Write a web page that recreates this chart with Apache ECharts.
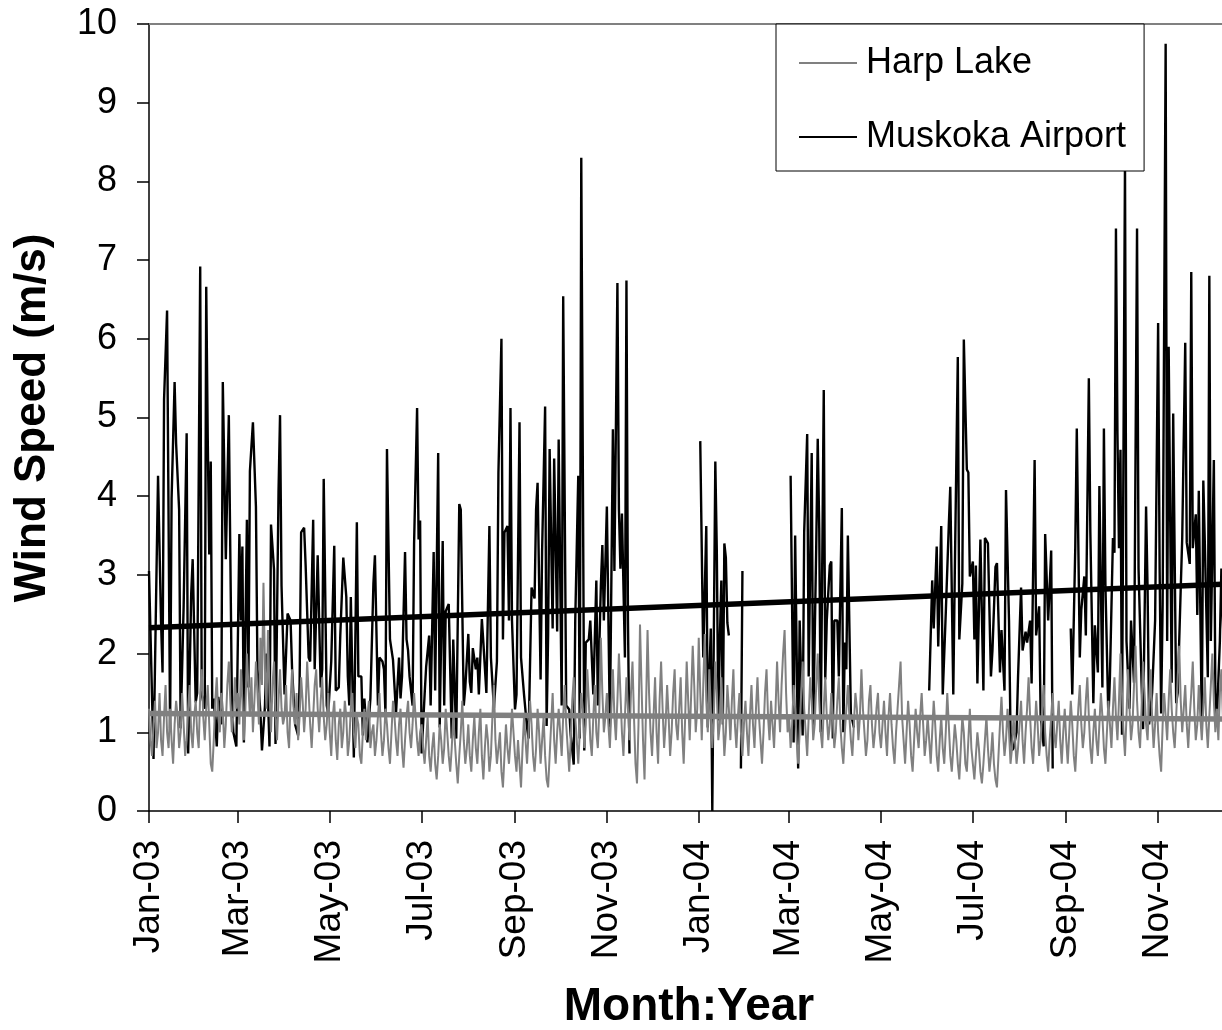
<!DOCTYPE html>
<html>
<head>
<meta charset="utf-8">
<title>Wind Speed: Harp Lake and Muskoka Airport</title>
<script src="https://cdn.jsdelivr.net/npm/echarts@6/dist/echarts.min.js"></script>
<style>
  html, body { margin: 0; padding: 0; background: #fff; }
  #chart { width: 1222px; height: 1030px; }
</style>
</head>
<body>
<div id="chart"></div>
<script>
// Daily mean wind speed (m/s), Harp Lake, one row per month
const harp2003 = [
  [1.3,0.9,0.7,1.1,1.4,0.8,1.0,1.5,0.9,0.7,1.2,1.6,1.0,0.8,1.3,0.9,0.6,1.1,1.4,1.2,0.8,1.0,1.5,1.1,0.7,0.9,1.3,1.6,1.0,0.8,1.2],
  [1.4,1.0,0.8,1.5,1.8,1.2,0.9,1.3,1.6,1.1,0.6,0.5,0.9,1.4,1.7,1.2,1.0,1.5,1.3,0.8,1.1,1.6,1.9,1.4,1.0,1.2,1.7,1.3],
  [1.5,1.1,1.8,1.4,0.9,1.3,2.0,1.6,1.2,1.7,1.0,1.4,1.9,1.5,1.1,2.2,1.6,2.9,1.8,1.3,2.3,1.5,1.0,1.6,1.9,1.2,0.9,1.4,1.8,1.3,1.1],
  [1.2,1.6,1.0,0.8,1.4,1.8,1.3,1.1,1.5,0.9,1.2,1.7,1.4,1.0,1.3,1.9,1.5,1.1,0.8,1.2,1.6,1.8,1.3,1.0,1.4,1.7,1.2,0.9,1.1,1.5],
  [1.0,0.7,1.2,1.4,0.9,0.65,1.1,1.3,0.8,1.0,1.4,1.2,0.7,0.9,1.3,1.5,1.0,0.8,1.2,1.1,0.7,0.6,1.0,1.3,0.9,1.2,1.4,0.8,1.0,1.1,0.7],
  [0.9,1.2,1.5,1.0,0.7,0.9,1.3,1.1,0.8,0.6,1.0,1.4,1.2,0.9,0.7,1.1,1.3,0.8,0.55,0.9,1.2,1.4,1.0,0.8,1.1,1.5,1.2,0.9,0.7,1.0],
  [1.1,0.8,0.6,0.9,1.2,0.7,0.5,0.8,1.0,0.6,0.4,0.7,1.1,0.9,0.6,0.8,1.3,1.0,0.7,0.5,0.8,1.2,0.9,0.6,0.35,0.7,1.0,1.4,0.9,0.6,0.8],
  [1.1,0.7,0.5,0.9,1.2,0.8,0.6,1.0,1.3,0.7,0.4,0.8,1.1,0.9,0.5,0.7,1.2,1.6,0.9,0.6,0.8,1.0,0.5,0.3,0.7,1.1,0.8,0.6,0.9,1.3,1.0],
  [0.7,0.5,0.9,0.6,0.3,0.8,1.2,0.9,0.6,1.0,1.4,1.1,0.7,0.5,0.8,1.3,1.0,0.6,0.9,1.2,0.7,0.4,0.3,0.7,1.1,1.5,0.9,0.6,1.0,1.3],
  [1.0,0.7,1.2,1.6,1.1,0.8,0.5,0.9,1.4,1.7,1.2,0.9,0.6,1.0,1.5,1.3,0.8,1.1,1.8,1.4,0.9,0.7,1.2,1.6,1.0,0.8,1.3,2.2,1.5,1.0,1.2],
  [1.5,1.1,0.8,1.3,1.8,1.2,0.9,1.4,2.0,1.5,1.0,0.7,1.2,1.7,1.3,0.9,1.5,1.9,1.2,0.6,0.35,1.1,2.37,1.6,0.9,0.4,1.3,2.3,1.5,1.0],
  [0.7,1.2,1.7,1.0,0.6,1.4,1.9,1.3,0.8,1.1,1.6,1.2,0.7,1.0,1.5,1.8,1.1,0.9,1.3,1.7,1.0,0.6,1.2,1.9,1.4,0.9,1.5,2.1,1.6,1.0,1.3]
];
const harp2004 = [
  [2.2,1.5,0.9,1.6,2.25,1.4,1.0,1.8,1.3,0.8,1.2,1.9,1.5,0.9,1.1,1.7,1.2,0.7,1.0,1.6,1.3,0.9,1.4,1.8,1.1,0.8,1.2,1.5,1.0,0.7,1.1],
  [1.4,1.0,0.7,1.2,1.6,1.1,0.8,1.3,1.7,1.2,0.9,0.6,1.0,1.5,1.8,1.2,0.9,1.4,1.1,0.8,1.3,1.9,1.4,1.0,1.6,2.0,2.3,1.5,1.0],
  [1.2,0.8,1.1,1.6,1.3,0.9,0.6,1.0,1.5,1.9,1.3,1.0,0.7,1.2,1.7,1.4,0.9,1.1,1.6,2.0,1.4,1.0,0.8,1.3,1.7,1.2,0.9,1.1,1.5,1.2,0.8],
  [1.0,1.4,1.7,1.1,0.8,0.6,1.0,1.3,1.6,1.2,0.9,0.7,1.1,1.5,1.3,0.9,1.2,1.8,1.3,1.0,0.7,0.9,1.4,1.6,1.1,0.8,1.0,1.3,1.5,1.0],
  [0.8,1.1,1.4,1.0,0.7,1.2,1.5,1.1,0.8,0.6,1.0,1.3,1.6,1.9,1.2,0.9,0.6,1.0,1.4,1.1,0.7,0.5,0.9,1.3,1.0,0.8,1.2,1.5,1.1,0.7,0.9],
  [1.2,0.9,0.6,1.0,1.4,1.1,0.7,0.5,0.9,1.2,0.8,0.6,1.0,1.5,1.1,0.7,0.5,0.8,1.1,0.9,0.6,0.4,0.8,1.2,1.0,0.6,0.5,0.9,1.3,0.8],
  [0.6,0.4,0.7,1.0,0.8,0.5,0.35,0.6,0.9,1.2,0.8,0.5,0.7,1.0,0.6,0.4,0.3,0.7,1.1,1.45,1.0,0.7,0.9,1.3,1.0,0.6,0.8,1.2,0.9,0.6,0.8],
  [1.1,1.4,0.9,0.6,1.0,1.3,1.7,1.2,0.8,0.6,1.0,1.4,1.1,0.7,0.9,1.3,1.6,1.0,0.7,0.5,0.9,1.2,1.5,1.0,0.8,1.1,1.4,0.9,0.6,1.0,1.3],
  [0.9,0.6,1.0,1.4,1.1,0.7,0.5,0.9,1.3,1.6,1.1,0.8,1.0,1.4,1.7,1.2,0.8,0.6,1.0,1.3,0.9,0.7,1.1,1.5,1.2,0.8,0.6,1.0,1.4,1.1],
  [0.8,1.3,1.7,1.2,0.9,1.4,2.0,1.5,1.0,0.7,1.2,1.8,1.3,0.9,1.1,1.6,2.1,1.4,1.0,0.8,1.3,1.9,1.5,1.1,0.9,1.4,1.8,1.2,0.8,1.1,1.5],
  [1.0,0.7,0.5,1.1,1.5,1.2,0.9,1.4,1.8,1.3,1.0,0.8,1.2,1.7,2.1,1.4,1.0,1.3,1.6,1.1,0.8,1.2,1.5,1.9,1.3,0.9,1.1,1.6,1.2,0.9],
  [1.3,1.7,1.1,0.8,1.2,1.6,2.0,1.4,1.0,1.3,0.9,1.5,1.8,1.2,1.0,1.4,1.1,0.8,1.3,1.6,1.2,0.9,1.1,1.5,1.3,1.0,1.2,1.6,1.1,0.9,1.2]
];

// Muskoka Airport wind speed (m/s) as [day since 1 Jan 2003, speed]; each block is an unbroken record
const muskoka2003 = [
  [0,3.05],[3,0.66],[6,4.26],[8,2.4],[9,1.76],[10,5.23],[12,6.36],[14,1.05],[15,3.97],[17,5.45],[18,4.67],[20,3.83],
  [21,1.05],[23,2.6],[25,4.8],[26,0.73],[28,2.75],[29,3.2],[31,1.38],[32,1.5],[34,6.92],[35,1.48],[37,1.3],[38,6.66],
  [39,4.74],[40,3.26],[41,4.44],[42,1.3],[43,1.43],[45,0.82],[46,1.45],[48,1.1],[49,5.45],[51,3.2],[53,5.03],[55,1.48],
  [56,1.0],[58,0.82],[60,3.52],[61,2.42],[62,3.36],[63,0.87],[65,3.7],[66,1.57],[67,4.32],[69,4.94],[71,3.87],[72,1.8],
  [74,1.24],[75,0.77],[77,1.34],[78,2.0],[80,0.82],[81,3.64],[83,3.07],[84,0.85],[86,4.06],[87,5.03],[88,2.86],[90,1.48],
  [92,2.51],[94,2.42],[95,1.8],[97,1.1],[99,0.96],[100,1.64],[101,3.54],[103,3.6],[104,3.12],[106,1.95],[107,1.9],[109,3.7],
  [110,1.8],[112,3.25],[114,1.57],[115,1.8],[116,4.22],[118,1.34],[119,1.24],[121,1.9],[123,3.37],[124,1.53],[126,1.57],
  [127,2.23],[129,3.22],[131,2.72],[132,1.71],[133,1.34],[134,2.72],[136,0.68],[138,3.67],[139,1.71],[141,1.71],[142,0.96],
  [143,1.43],[145,0.87],[147,1.43],[149,2.89],[150,3.25],[152,1.34],[153,1.95],[155,1.9],[156,1.8],[157,1.24],[158,4.6],
  [160,2.18],[162,1.92],[164,1.24],[166,1.95],[167,1.43],[168,1.71],[170,3.29],[171,2.18],[172,2.04],[173,1.71],[175,1.34],
  [176,3.4],[178,5.12],[179,3.45],[180,3.69],[181,0.73],[183,1.48],[184,1.83],[186,2.23],[187,1.34],[189,3.29],[190,1.53],
  [192,4.55],[193,1.06],[195,3.43],[196,1.34],[197,2.54],[199,2.63],[201,0.92],[202,2.18],[204,0.92],[206,3.9],[207,3.83],
  [209,1.34],[210,1.57],[212,2.25],[213,1.64],[214,1.5],[215,2.07],[217,1.8],[218,1.95],[219,1.48],[221,2.44],[222,2.14],
  [224,1.5],[226,3.62],[227,1.95],[229,1.31],[231,1.9],[232,4.3],[234,6.0],[235,2.18],[236,3.54],[238,3.62],[239,2.42],
  [240,5.12],[241,2.42],[243,1.29],[244,1.48],[246,4.94],[247,1.95],[249,1.48],[251,1.06],[252,0.92],[254,2.84],[256,2.7],
  [257,3.83],[258,4.17],[260,1.67],[261,3.31],[263,5.14],[264,1.08],[265,2.25],[266,4.6],[268,2.32],[269,4.48],[271,2.28],
  [272,4.72],[274,1.34],[275,6.54],[277,1.34],[279,1.29],[280,0.96],[282,0.59],[283,2.42],[285,4.26],[286,0.92],[287,8.3],
  [289,0.77],[290,2.14],[292,2.18],[293,2.42],[295,1.48],[297,2.93],[298,1.34],[300,2.86],[301,3.38],[302,2.42],[304,3.87],
  [306,1.06],[308,4.85],[309,3.05],[311,6.71],[312,3.83],[313,3.08],[314,3.78],[316,1.95],[317,6.74],[318,2.42],[319,0.73]
];
const muskokaJan2004 = [
  [366,4.7],[368,1.95],[370,3.62],[371,1.06],[373,2.32],[374,0],[376,4.44],[377,3.29],[378,1.15],[379,2.18],[380,2.93],
  [381,1.1],[382,3.4],[383,3.22],[384,2.39],[385,2.23]
];
const muskokaFeb2004 = [[393,0.54],[394,3.05]];
const muskokaSpring2004 = [
  [426,4.26],[428,0.87],[429,3.5],[431,0.54],[432,2.42],[434,0.96],[435,3.54],[437,4.79],[438,1.71],[440,4.55],[441,1.06],
  [443,3.36],[444,4.73],[445,3.59],[446,1.0],[448,5.35],[449,1.67],[450,2.42],[452,3.12],[453,3.17],[454,0.92],[455,2.42],
  [457,2.42],[458,1.71],[460,3.85],[461,1.0],[462,2.14],[463,1.8],[464,3.5],[466,1.24],[468,1.06]
];
const muskokaSummer2004 = [
  [518,1.53],[520,2.93],[521,2.32],[523,3.36],[524,2.09],[526,3.62],[527,1.48],[529,2.51],[531,3.62],[532,4.12],[534,1.48],
  [535,3.03],[537,5.77],[538,2.18],[540,2.89],[541,5.99],[543,4.34],[544,4.3],[545,2.98],[547,3.17],[548,2.18],[549,3.12],
  [550,1.62],[552,3.45],[554,1.53],[555,3.47],[557,3.4],[559,1.71],[560,2.04],[562,3.1],[563,3.15],[565,1.76],[566,2.3],
  [568,1.53],[569,4.08],[571,2.42],[572,1.0],[573,0.77],[574,0.8],[576,1.0],[577,1.71],[579,2.84],[580,2.04],[582,2.28],
  [583,2.14],[585,2.42],[586,1.62],[588,4.46],[589,2.23],[591,2.6],[592,1.2],[594,0.82],[595,3.52],[597,2.42],[599,3.31],
  [600,0.54]
];
const muskokaFall2004 = [
  [612,2.32],[613,1.48],[615,3.36],[616,4.86],[618,1.95],[619,2.56],[621,2.98],[622,2.23],[624,5.5],[625,3.54],[627,1.37],
  [628,2.36],[630,1.76],[631,4.13],[633,1.57],[634,4.86],[635,2.88],[637,1.17],[638,1.7],[640,3.47],[641,3.28],[642,7.4],
  [643,4.79],[644,3.34],[645,4.59],[646,0.97],[648,8.25],[649,2.16],[651,1.3],[652,2.42],[654,1.63],[656,7.4],[657,3.08],
  [659,1.63],[660,1.04],[662,3.87],[663,2.82],[664,1.1],[666,1.5],[668,2.42],[670,6.2],[671,3.08],[672,1.24],[673,2.62],
  [675,9.75],[676,2.16],[677,5.9],[679,1.63],[680,5.05],[682,1.37],[683,1.5],[685,2.82],[686,3.47],[688,5.95],[689,3.41],
  [691,3.14],[692,6.85],[693,3.34],[695,3.77],[696,2.49],[697,4.07],[699,1.1],[700,4.2],[701,3.41],[703,1.7],[704,6.8],
  [705,2.16],[707,4.46],[708,1.5],[709,1.17],[711,2.16],[712,3.08],[714,1.8],[715,2.6]
];

// Linear trend end values (m/s) at 1 Jan 2003 and 1 Jan 2005
const harpTrend = [1.24, 1.168];
const muskokaTrend = [2.33, 2.895];

// Month tick labels along the date axis
const tickLabels = ['Jan-03','Mar-03','May-03','Jul-03','Sep-03','Nov-03',
                    'Jan-04','Mar-04','May-04','Jul-04','Sep-04','Nov-04','Jan-05'];

const seriesNames = ['Harp Lake', 'Muskoka Airport'];

// ---- build series data (x = days since 1 Jan 2003) ----
const DAY = 86400000;
const origin = Date.UTC(2003, 0, 1);
const monthIndex = {Jan:0,Feb:1,Mar:2,Apr:3,May:4,Jun:5,Jul:6,Aug:7,Sep:8,Oct:9,Nov:10,Dec:11};
const tickDays = tickLabels.map(function (t) {
  const parts = t.split('-');
  return Math.round((Date.UTC(2000 + Number(parts[1]), monthIndex[parts[0]], 1) - origin) / DAY);
});
const labelByDay = {};
tickDays.forEach(function (d, i) { labelByDay[d] = tickLabels[i]; });
const axisEnd = tickDays[tickDays.length - 1];

const harpData = harp2003.flat().concat(harp2004.flat()).map(function (v, i) { return [i, v]; });

const muskokaBlocks = [muskoka2003, muskokaJan2004, muskokaFeb2004, muskokaSpring2004, muskokaSummer2004, muskokaFall2004];
const muskokaData = [];
muskokaBlocks.forEach(function (block, i) {
  if (i > 0) muskokaData.push([block[0][0] - 0.5, '-']);   // break the line between records
  block.forEach(function (p) { muskokaData.push(p); });
});

const FONT = '"Liberation Sans", Arial, Helvetica, sans-serif';
const GRAY = '#808080';

const chart = echarts.init(document.getElementById('chart'), null, { renderer: 'canvas' });
chart.setOption({
  animation: false,
  backgroundColor: '#ffffff',
  // the plot runs on past the right edge of the page (the last weeks are cut off)
  grid: { left: 149, top: 24, width: 1101, height: 787, outerBoundsMode: 'none', containLabel: false },
  legend: {
    data: seriesNames,
    orient: 'vertical',
    left: 776,
    top: 24,
    padding: [19, 18, 14, 23],
    itemGap: 34,
    itemWidth: 58,
    itemHeight: 2,
    icon: 'rect',
    backgroundColor: '#ffffff',
    borderColor: '#000000',
    borderWidth: 1,
    textStyle: { fontFamily: FONT, fontSize: 36, color: '#000', lineHeight: 40, padding: [0, 0, 0, 4] }
  },
  xAxis: [{
    type: 'value',
    min: 0,
    max: axisEnd,
    axisLine: { show: true, onZero: false, lineStyle: { color: '#000', width: 1.5 } },
    axisTick: { show: true, customValues: tickDays, length: 12, inside: false, lineStyle: { color: '#000', width: 1.5 } },
    axisLabel: {
      customValues: tickDays,
      rotate: 90,
      margin: 29,
      fontFamily: FONT,
      fontSize: 37,
      color: '#000',
      formatter: function (v) { return labelByDay[Math.round(v)] || ''; }
    },
    splitLine: { show: false }
  }, {
    type: 'value',
    position: 'top',
    min: 0,
    max: axisEnd,
    axisLine: { show: true, onZero: false, lineStyle: { color: GRAY, width: 2 } },
    axisTick: { show: false },
    axisLabel: { show: false },
    splitLine: { show: false }
  }],
  yAxis: {
    type: 'value',
    min: 0,
    max: 10,
    interval: 1,
    axisLine: { show: true, lineStyle: { color: '#000', width: 1.5 } },
    axisTick: { show: true, length: 12, lineStyle: { color: '#000', width: 1.5 } },
    axisLabel: { margin: 32, fontFamily: FONT, fontSize: 36, color: '#000' },
    splitLine: { show: false }
  },
  graphic: [{
    type: 'text',
    x: 33,
    y: 418,
    rotation: Math.PI / 2,
    style: { text: 'Wind Speed (m/s)', fill: '#000', font: 'bold 44px ' + FONT, align: 'center', verticalAlign: 'middle' }
  }, {
    type: 'text',
    x: 689,
    y: 1007,
    style: { text: 'Month:Year', fill: '#000', font: 'bold 46px ' + FONT, align: 'center', verticalAlign: 'middle' }
  }],
  series: [{
    name: 'Muskoka Airport',
    type: 'line',
    data: muskokaData,
    symbol: 'none',
    color: '#000',
    lineStyle: { color: '#000', width: 2.4 },
    connectNulls: false,
    z: 2
  }, {
    name: 'Harp Lake',
    type: 'line',
    data: harpData,
    symbol: 'none',
    color: GRAY,
    lineStyle: { color: GRAY, width: 2 },
    z: 3
  }, {
    name: 'Harp Lake trend',
    type: 'line',
    data: [[0, harpTrend[0]], [axisEnd, harpTrend[1]]],
    symbol: 'none',
    color: GRAY,
    lineStyle: { color: GRAY, width: 5.5 },
    silent: true,
    z: 4
  }, {
    name: 'Muskoka Airport trend',
    type: 'line',
    data: [[0, muskokaTrend[0]], [axisEnd, muskokaTrend[1]]],
    symbol: 'none',
    color: '#000',
    lineStyle: { color: '#000', width: 5.5 },
    silent: true,
    z: 5
  }]
});
</script>
</body>
</html>
